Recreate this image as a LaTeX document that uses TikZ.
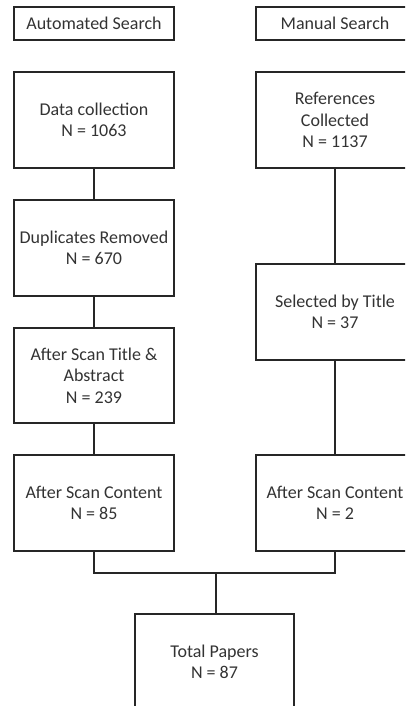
\documentclass[tikz,border=0pt]{standalone}
\usepackage{fontspec}
\setmainfont{Carlito}
\begin{document}
\begin{tikzpicture}[x=1pt,y=-1pt,
  box/.style={draw=black!85, line width=1.3pt, minimum width=160pt, minimum height=96pt,
    align=center, inner sep=0pt, font=\fontsize{18}{21.5}\selectfont, text=black!80},
  hdr/.style={box, minimum height=33pt},
  link/.style={draw=black!85, line width=1.3pt}]
\useasboundingbox (0,0) rectangle (405,706);
\clip (0,0) rectangle (405,706);
\node[hdr] (auto) at (94,23.5) {Automated Search};
\node[hdr, minimum width=158pt] (manual) at (335,23.5) {Manual Search};
\node[box] (data) at (94,120) {Data collection\\N = 1063};
\node[box, minimum width=158pt] (refs) at (335,120) {References\\Collected\\N = 1137};
\node[box] (dup) at (94,248) {Duplicates Removed\\N = 670};
\node[box, minimum width=158pt] (sel) at (335,312) {Selected by Title\\N = 37};
\node[box, minimum height=95pt] (scan) at (94,375.5) {After Scan Title \&\\Abstract\\N = 239};
\node[box] (cont) at (94,503) {After Scan Content\\N = 85};
\node[box, minimum width=158pt] (cont2) at (335,503) {After Scan Content\\N = 2};
\node[box, minimum width=159pt] (total) at (214.5,662) {Total Papers\\N = 87};
\coordinate (m) at (216,573);
\draw[link] (data) -- (dup);
\draw[link] (dup) -- (scan);
\draw[link] (scan) -- (cont);
\draw[link] (refs) -- (sel);
\draw[link] (sel) -- (cont2);
\draw[link] (cont.south) |- (m) -| (cont2.south);
\draw[link] (m) -- (m |- total.north);
\end{tikzpicture}
\end{document}
